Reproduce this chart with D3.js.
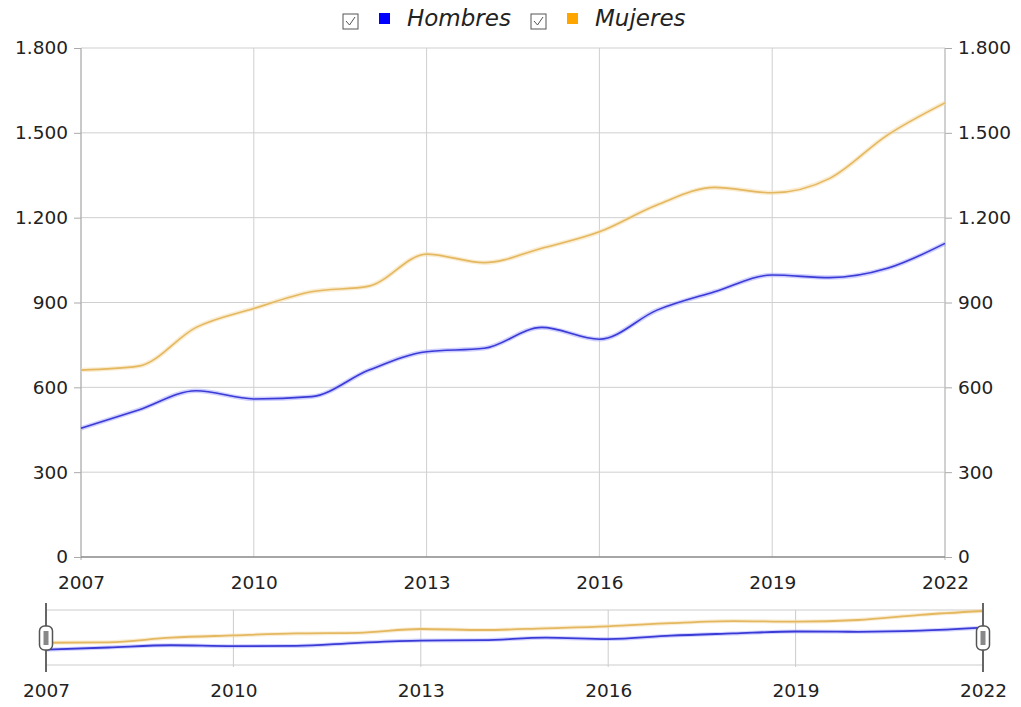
<!DOCTYPE html>
<html>
<head>
<meta charset="utf-8">
<script src="https://cdn.jsdelivr.net/npm/d3@7"></script>
<style>
	body { margin: 0; background: #fff; }
	text { font-family: "DejaVu Sans", Verdana, sans-serif; fill: #222; }
</style>
</head>
<body>
<div id="chart"></div>
<script>
'use strict';

// chart size
var width = 1021;
var height = 707;

// data
var years = [2007, 2008, 2009, 2010, 2011, 2012, 2013, 2014, 2015, 2016, 2017, 2018, 2019, 2020, 2021, 2022];
var hombres = [455, 520, 588, 559, 567, 661, 726, 738, 812, 770, 873, 938, 997, 988, 1021, 1109];
var mujeres = [661, 675, 812, 879, 938, 958, 1071, 1041, 1092, 1150, 1245, 1307, 1288, 1339, 1492, 1606];
var series_names = ["Hombres", "Mujeres"];
var y_ticks = [0, 300, 600, 900, 1200, 1500, 1800];
var x_ticks = [2007, 2010, 2013, 2016, 2019, 2022];

var series = [
	{ name: series_names[0], values: hombres, color: "#3a3ad6", halo: "#a8a8ff", key: "#0000ff" },
	{ name: series_names[1], values: mujeres, color: "#e4b860", halo: "#f5dcaa", key: "#ffa500" }
];

// main plot area
var plot = { left: 81, right: 945, top: 48, bottom: 557 };
// navigator area
var nav = { left: 46, right: 983, top: 610, bottom: 665 };

var x_scale = d3.scaleLinear().domain([2007, 2022]).range([plot.left, plot.right]);
var y_scale = d3.scaleLinear().domain([0, 1800]).range([plot.bottom, plot.top]);

var nx_scale = d3.scaleLinear().domain([2007, 2022]).range([nav.left, nav.right]);
var ny_scale = d3.scaleLinear().domain([0, d3.max(mujeres)]).range([nav.bottom, nav.top + 1]);

var fmt = function(v) {
	return d3.format(",")(v).replace(/,/g, ".");
};

var svg = d3.select("#chart").append("svg")
	.attr("width", width)
	.attr("height", height);

// ---- grid ----
var grid_g = svg.append("g");

y_ticks.forEach(function(t) {
	if (t == 0) return;
	grid_g.append("line")
		.attr("x1", plot.left).attr("x2", plot.right)
		.attr("y1", y_scale(t)).attr("y2", y_scale(t))
		.style("stroke", "#cfcfcf").style("stroke-width", 1);
});

x_ticks.forEach(function(t) {
	grid_g.append("line")
		.attr("x1", x_scale(t)).attr("x2", x_scale(t))
		.attr("y1", plot.top).attr("y2", plot.bottom)
		.style("stroke", "#cfcfcf").style("stroke-width", 1);
});

// ---- axes ----
var left_axis = d3.axisLeft(y_scale).tickValues(y_ticks).tickFormat(fmt).tickSize(7).tickPadding(6);
var right_axis = d3.axisRight(y_scale).tickValues(y_ticks).tickFormat(fmt).tickSize(7).tickPadding(6);
var bottom_axis = d3.axisBottom(x_scale).tickValues(x_ticks).tickFormat(d3.format("d")).tickSize(0).tickPadding(19);

function style_axis(g) {
	g.select(".domain").remove();
	g.selectAll(".tick line").style("stroke", "#aaa");
	g.selectAll(".tick text")
		.style("font-size", "18.5px")
		.style("font-family", "'DejaVu Sans', Verdana, sans-serif")
		.style("fill", "#222");
}

svg.append("g")
	.attr("transform", "translate(" + plot.left + ",0)")
	.call(left_axis)
	.call(style_axis);

svg.append("g")
	.attr("transform", "translate(" + plot.right + ",0)")
	.call(right_axis)
	.call(style_axis);

svg.append("g")
	.attr("transform", "translate(0," + plot.bottom + ")")
	.call(bottom_axis)
	.call(style_axis);

// frame lines of the plot
svg.append("line")
	.attr("x1", plot.left).attr("x2", plot.left)
	.attr("y1", plot.top).attr("y2", plot.bottom + 3)
	.style("stroke", "#aaa");
svg.append("line")
	.attr("x1", plot.right).attr("x2", plot.right)
	.attr("y1", plot.top).attr("y2", plot.bottom + 3)
	.style("stroke", "#bbb");
svg.append("line")
	.attr("x1", plot.left).attr("x2", plot.right)
	.attr("y1", plot.bottom).attr("y2", plot.bottom)
	.style("stroke", "#888").style("stroke-width", 1.5);

// ---- lines ----
var line = d3.line()
	.x(function(d, i) { return x_scale(years[i]); })
	.y(function(d) { return y_scale(d); })
	.curve(d3.curveMonotoneX);

var lines_g = svg.append("g");
series.forEach(function(s) {
	lines_g.append("path")
		.attr("d", line(s.values))
		.style("fill", "none")
		.style("stroke", s.halo)
		.style("stroke-width", 4.5)
		.style("opacity", 0.55);
	lines_g.append("path")
		.attr("d", line(s.values))
		.style("fill", "none")
		.style("stroke", s.color)
		.style("stroke-width", 1.6);
});

// ---- legend ----
var legend_g = svg.append("g");
var legend_pos = [343, 531];

series.forEach(function(s, i) {
	var lx = legend_pos[i];
	var box = legend_g.append("g");
	box.append("rect")
		.attr("x", lx).attr("y", 14)
		.attr("width", 15).attr("height", 15)
		.style("fill", "#fff").style("stroke", "#555").style("stroke-width", 1);
	box.append("path")
		.attr("d", "M" + (lx + 3) + ",21 L" + (lx + 6.5) + ",25 L" + (lx + 12) + ",17")
		.style("fill", "none").style("stroke", "#555").style("stroke-width", 1);

	legend_g.append("rect")
		.attr("x", lx + 36).attr("y", 13)
		.attr("width", 11).attr("height", 11)
		.style("fill", s.key);

	legend_g.append("text")
		.attr("x", lx + 64).attr("y", 26)
		.style("font-size", "23px")
		.style("font-style", "italic")
		.text(s.name);
});

// ---- navigator ----
var nav_g = svg.append("g");

nav_g.append("line")
	.attr("x1", nav.left).attr("x2", nav.right)
	.attr("y1", nav.top).attr("y2", nav.top)
	.style("stroke", "#ccc");
nav_g.append("line")
	.attr("x1", nav.left).attr("x2", nav.right)
	.attr("y1", nav.bottom).attr("y2", nav.bottom)
	.style("stroke", "#ccc");

x_ticks.forEach(function(t) {
	if (t == 2007 || t == 2022) return;
	nav_g.append("line")
		.attr("x1", nx_scale(t)).attr("x2", nx_scale(t))
		.attr("y1", nav.top).attr("y2", nav.bottom + 2)
		.style("stroke", "#ccc");
});

var nav_line = d3.line()
	.x(function(d, i) { return nx_scale(years[i]); })
	.y(function(d) { return ny_scale(d); })
	.curve(d3.curveMonotoneX);

series.forEach(function(s) {
	nav_g.append("path")
		.attr("d", nav_line(s.values))
		.style("fill", "none")
		.style("stroke", s.halo)
		.style("stroke-width", 4)
		.style("opacity", 0.5);
	nav_g.append("path")
		.attr("d", nav_line(s.values))
		.style("fill", "none")
		.style("stroke", s.color)
		.style("stroke-width", 1.8);
});

var nav_axis = d3.axisBottom(nx_scale).tickValues(x_ticks).tickFormat(d3.format("d")).tickSize(0).tickPadding(19);
nav_g.append("g")
	.attr("transform", "translate(0," + nav.bottom + ")")
	.call(nav_axis)
	.call(style_axis);

// range handles at both ends
[2007, 2022].forEach(function(t) {
	var hx = nx_scale(t);
	nav_g.append("line")
		.attr("x1", hx).attr("x2", hx)
		.attr("y1", nav.top - 7).attr("y2", nav.bottom + 7)
		.style("stroke", "#666").style("stroke-width", 2);
	nav_g.append("rect")
		.attr("x", hx - 6.5).attr("y", 626)
		.attr("width", 13).attr("height", 24)
		.attr("rx", 5).attr("ry", 5)
		.style("fill", "#fff").style("stroke", "#555").style("stroke-width", 1.5);
	nav_g.append("rect")
		.attr("x", hx - 2.5).attr("y", 631)
		.attr("width", 5).attr("height", 14)
		.style("fill", "#888");
});
</script>
</body>
</html>
